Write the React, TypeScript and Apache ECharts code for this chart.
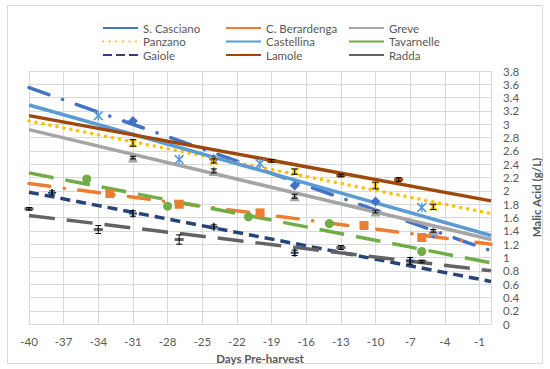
import React, { useEffect, useRef } from "react";
import * as echarts from "echarts";

// ---- data ----
const sites = ["S. Casciano", "C. Berardenga", "Greve", "Panzano", "Castellina", "Tavarnelle", "Gaiole", "Lamole", "Radda"];
const colors = ["#4472C4", "#ED7D31", "#A5A5A5", "#FFC000", "#5B9BD5", "#70AD47", "#264478", "#9E480E", "#636363"];

// linear trend line values at day -40 and at day 0
const trendAtMinus40 = [3.55, 2.11, 2.92, 3.05, 3.29, 2.27, 1.98, 3.13, 1.63];
const trendAtZero = [1.1, 1.2, 1.27, 1.66, 1.33, 0.92, 0.64, 1.85, 0.8];

// measured points (day, malic acid g/L, error)
const sCascianoDays = [-31, -24, -17, -10, -5];
const sCascianoVals = [3.05, 2.48, 2.08, 1.84, 1.36];
const sCascianoErr = [0, 0, 0, 0, 0];

const cBerardengaDays = [-33, -27, -20, -11, -6];
const cBerardengaVals = [1.96, 1.8, 1.67, 1.48, 1.3];
const cBerardengaErr = [0, 0, 0, 0, 0];

const greveDays = [-31, -24, -17, -10, -5];
const greveVals = [2.5, 2.3, 1.92, 1.69, 1.4];
const greveErr = [0.02, 0.03, 0.03, 0.02, 0.02];

const panzanoDays = [-31, -24, -17, -10, -5];
const panzanoVals = [2.72, 2.45, 2.29, 2.08, 1.76];
const panzanoErr = [0.05, 0.03, 0.04, 0.05, 0.04];

const castellinaDays = [-34, -27, -20, -6];
const castellinaVals = [3.13, 2.47, 2.41, 1.75];
const castellinaErr = [0, 0, 0, 0];

const tavarnelleDays = [-35, -28, -21, -14, -6];
const tavarnelleVals = [2.18, 1.77, 1.61, 1.51, 1.09];
const tavarnelleErr = [0, 0, 0, 0, 0];

const gaioleDays = [-38, -31, -24, -17, -7];
const gaioleVals = [1.97, 1.66, 1.46, 1.07, 0.95];
const gaioleErr = [0.03, 0.04, 0.03, 0.04, 0.05];

const lamoleDays = [-19, -13, -8];
const lamoleVals = [2.45, 2.23, 2.17];
const lamoleErr = [0.02, 0.02, 0.03];

const raddaDays = [-40, -34, -27, -13, -6];
const raddaVals = [1.73, 1.42, 1.27, 1.15, 0.94];
const raddaErr = [0.02, 0.06, 0.07, 0.03, 0.02];

const pointDays = [sCascianoDays, cBerardengaDays, greveDays, panzanoDays, castellinaDays, tavarnelleDays, gaioleDays, lamoleDays, raddaDays];
const pointVals = [sCascianoVals, cBerardengaVals, greveVals, panzanoVals, castellinaVals, tavarnelleVals, gaioleVals, lamoleVals, raddaVals];
const pointErr = [sCascianoErr, cBerardengaErr, greveErr, panzanoErr, castellinaErr, tavarnelleErr, gaioleErr, lamoleErr, raddaErr];

const xMin = -40;
const xMax = 0;
const xStep = 3;
const yMin = 0;
const yMax = 3.8;
const yStep = 0.2;

// ---- styles ----
const FONT = "Lato, 'Open Sans', sans-serif";
const X_PATH = "path://M0,1.5 L1.5,0 L5,3.5 L8.5,0 L10,1.5 L6.5,5 L10,8.5 L8.5,10 L5,6.5 L1.5,10 L0,8.5 L3.5,5 Z";
const STAR_PATH = "path://M0,1.2 L1.2,0 L5,3.8 L8.8,0 L10,1.2 L6.2,5 L10,8.8 L8.8,10 L5,6.2 L1.2,10 L0,8.8 L3.8,5 Z M4.3,0 H5.7 V10 H4.3 Z";
const PLUS_PATH = "path://M3.8,0 H6.2 V3.8 H10 V6.2 H6.2 V10 H3.8 V6.2 H0 V3.8 H3.8 Z";

const symbols: any[] = ["diamond", "rect", "triangle", X_PATH, STAR_PATH, "circle", PLUS_PATH, "rect", "rect"];
const symbolSizes: any[] = [10, 9, 10, 9, 10, 9, 8, [9, 3], [9, 3]];

const trendLineTypes: any[] = [
  [21, 14.5, 0.1, 14.5],
  [21, 14.5, 0.1, 14.5],
  "solid",
  [0.1, 7],
  "solid",
  [25, 12],
  [10, 6],
  "solid",
  [26, 12],
];
const trendCaps: any[] = ["round", "round", "butt", "round", "butt", "butt", "butt", "butt", "butt"];
const legendLineTypes: any[] = ["solid", "solid", "solid", [0.1, 6.5], "solid", "solid", [9, 4], "solid", "solid"];
const legendCaps: any[] = ["butt", "butt", "butt", "round", "butt", "butt", "butt", "butt", "butt"];

export default function App() {
  const ref = useRef<HTMLDivElement>(null);

  useEffect(() => {
    if (!ref.current) return;
    const chart = echarts.init(ref.current, undefined, { renderer: "svg" });

    const series: any[] = [];
    // legend-only series (no data) carrying the legend line style
    sites.forEach((name, i) => {
      series.push({
        name,
        type: "line",
        data: [],
        symbol: "none",
        showSymbol: false,
        lineStyle: { color: colors[i], width: 3.5, type: legendLineTypes[i], cap: legendCaps[i] },
        itemStyle: { color: colors[i] },
      });
    });
    // linear trend lines
    sites.forEach((name, i) => {
      series.push({
        name: name + " (linear)",
        type: "line",
        data: [
          [xMin, trendAtMinus40[i]],
          [xMax, trendAtZero[i]],
        ],
        symbol: "none",
        silent: true,
        z: 2,
        lineStyle: { color: colors[i], width: 3.5, type: trendLineTypes[i], cap: trendCaps[i] },
        itemStyle: { color: colors[i] },
      });
    });
    // measured points
    sites.forEach((name, i) => {
      series.push({
        name: name + " data",
        type: "scatter",
        data: pointDays[i].map((d, j) => [d, pointVals[i][j]]),
        symbol: symbols[i],
        symbolSize: symbolSizes[i],
        itemStyle: { color: colors[i], opacity: 1 },
        z: 3,
      });
    });
    const errData: number[][] = [];
    sites.forEach((_, i) => {
      pointDays[i].forEach((d, j) => {
        if (pointErr[i][j] > 0) {
          errData.push([d, pointVals[i][j] - pointErr[i][j], pointVals[i][j] + pointErr[i][j]]);
        }
      });
    });
    series.push({
      name: "error",
      type: "custom",
      z: 4,
      silent: true,
      data: errData,
      encode: { x: 0, y: [1, 2] },
      renderItem: (_params: any, api: any) => {
        const x = api.value(0);
        const p1 = api.coord([x, api.value(1)]);
        const p2 = api.coord([x, api.value(2)]);
        const w = 3;
        const st = { stroke: "#000", lineWidth: 1 };
        return {
          type: "group",
          children: [
            { type: "line", shape: { x1: p1[0], y1: p1[1], x2: p2[0], y2: p2[1] }, style: st },
            { type: "line", shape: { x1: p1[0] - w, y1: p1[1], x2: p1[0] + w, y2: p1[1] }, style: st },
            { type: "line", shape: { x1: p2[0] - w, y1: p2[1], x2: p2[0] + w, y2: p2[1] }, style: st },
          ],
        };
      },
    });

    const legendBase = {
      orient: "vertical",
      top: 17,
      itemWidth: 35,
      itemHeight: 14,
      itemGap: 1.5,
      selectedMode: false,
      itemStyle: { opacity: 0 },
      textStyle: { fontFamily: FONT, fontSize: 11.5, color: "#595959" },
    };
    const columns = [
      [0, 3, 6],
      [1, 4, 7],
      [2, 5, 8],
    ];
    const lefts = [97, 220, 343];

    chart.setOption({
      animation: false,
      backgroundColor: "#fff",
      textStyle: { fontFamily: FONT },
      graphic: [
        {
          type: "rect",
          shape: { x: 7.5, y: 5.5, width: 535, height: 358 },
          style: { fill: "none", stroke: "#D9D9D9", lineWidth: 1 },
          silent: true,
          z: -1,
        },
      ],
      legend: columns.map((col, k) => ({
        ...legendBase,
        left: lefts[k],
        data: col.map((i) => sites[i]),
      })),
      grid: { left: 29, right: 54, top: 71, bottom: 43, containLabel: false },
      xAxis: {
        type: "value",
        min: xMin,
        max: xMax,
        interval: xStep,
        name: "Days Pre-harvest",
        nameLocation: "middle",
        nameGap: 25,
        nameTextStyle: { fontFamily: FONT, fontSize: 11.5, fontWeight: "bold", color: "#595959" },
        axisLine: { show: true, lineStyle: { color: "#D9D9D9", width: 1 } },
        axisTick: { show: false },
        axisLabel: { fontFamily: FONT, fontSize: 11.5, color: "#595959", margin: 11, showMaxLabel: false },
        splitLine: { show: true, lineStyle: { color: "#D9D9D9", width: 1 } },
      },
      yAxis: {
        type: "value",
        position: "right",
        min: yMin,
        max: yMax,
        interval: yStep,
        name: "Malic Acid (g/L)",
        nameLocation: "middle",
        nameRotate: 90,
        nameGap: 35,
        nameTextStyle: { fontFamily: FONT, fontSize: 11.5, fontWeight: "bold", color: "#595959" },
        axisLine: { show: false },
        axisTick: { show: false },
        axisLabel: {
          fontFamily: FONT,
          fontSize: 11.5,
          color: "#595959",
          margin: 12,
          formatter: (v: number) => String(Math.round(v * 10) / 10),
        },
        splitLine: { show: true, lineStyle: { color: "#D9D9D9", width: 1 } },
      },
      series,
    });

    return () => chart.dispose();
  }, []);

  return (
    <div
      ref={ref}
      style={{ position: "absolute", left: 0, top: 0, width: 550, height: 369 }}
    />
  );
}
